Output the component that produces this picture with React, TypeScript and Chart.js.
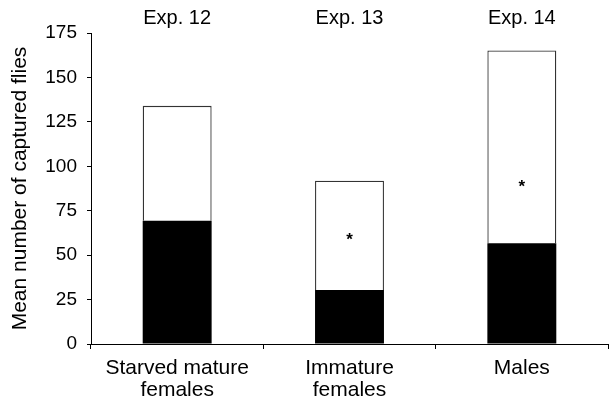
import React, { useEffect, useRef } from "react";
import { Chart, registerables } from "chart.js";

Chart.register(...registerables);

const categories: (string | string[])[] = [["Starved mature", "females"], ["Immature", "females"], "Males"];
const experiments = ["Exp. 12", "Exp. 13", "Exp. 14"];
const blackValues = [69.4, 30.4, 56.7];
const whiteValues = [64.6, 61.5, 108.5];
const asteriskValues: (number | null)[] = [null, 60.5, 90.5];
const yTicks = [0, 25, 50, 75, 100, 125, 150, 175];

const FONT = "'Liberation Sans', Arial, sans-serif";

const annotatePlugin = {
  id: "annotate",
  afterDraw(chart: any) {
    const ctx = chart.ctx;
    const x = chart.scales.x;
    const y = chart.scales.y;
    ctx.save();
    ctx.fillStyle = "#000";
    ctx.textAlign = "center";
    ctx.textBaseline = "middle";
    ctx.font = `20px ${FONT}`;
    experiments.forEach((t, i) => {
      ctx.fillText(t, x.getPixelForValue(i), 18);
    });
    ctx.font = `bold 17px ${FONT}`;
    asteriskValues.forEach((v, i) => {
      if (v == null) return;
      ctx.fillText("*", x.getPixelForValue(i), y.getPixelForValue(v) + 4);
    });
    ctx.restore();
  },
};

export default function App() {
  const ref = useRef<HTMLCanvasElement>(null);
  useEffect(() => {
    if (!ref.current) return;
    const chart = new Chart(ref.current, {
      type: "bar",
      data: {
        labels: categories as any,
        datasets: [
          {
            data: blackValues,
            backgroundColor: "#000",
            borderColor: "#000",
            borderWidth: 0,
            stack: "s",
          },
          {
            data: whiteValues,
            backgroundColor: "#fff",
            borderColor: "#333",
            borderWidth: 1.3,
            stack: "s",
          },
        ],
      },
      options: {
        responsive: false,
        animation: false,
        maintainAspectRatio: false,
        layout: { padding: { top: 33, right: 6, left: 0, bottom: 0 } },
        plugins: { legend: { display: false }, tooltip: { enabled: false } },
        datasets: { bar: { categoryPercentage: 1, barPercentage: 0.4 } },
        scales: {
          x: {
            stacked: true,
            grid: { drawOnChartArea: false, tickLength: 5, color: "#000", offset: true },
            border: { color: "#000", width: 1 },
            ticks: {
              color: "#000",
              font: { family: FONT, size: 21, lineHeight: 1.05 },
              padding: 8,
              maxRotation: 0,
              autoSkip: false,
            },
            afterFit: (s: any) => {
              s.height = 57;
            },
          },
          y: {
            stacked: true,
            min: 0,
            max: 175,
            afterBuildTicks: (s: any) => {
              s.ticks = yTicks.map((v) => ({ value: v }));
            },
            grid: { drawOnChartArea: false, tickLength: 4, color: "#000" },
            border: { color: "#000", width: 1 },
            ticks: { color: "#000", font: { family: FONT, size: 19 }, padding: 10 },
            title: {
              display: true,
              text: "Mean number of captured flies",
              color: "#000",
              font: { family: FONT, size: 21 },
              padding: { top: 8, bottom: 0 },
            },
            afterFit: (s: any) => {
              s.width = 91;
            },
          },
        },
      },
      plugins: [annotatePlugin],
    });
    return () => chart.destroy();
  }, []);
  return (
    <div style={{ position: "fixed", left: 0, top: 0, width: 614, height: 401, background: "#fff" }}>
      <canvas ref={ref} width={614} height={401} style={{ display: "block" }} />
    </div>
  );
}
